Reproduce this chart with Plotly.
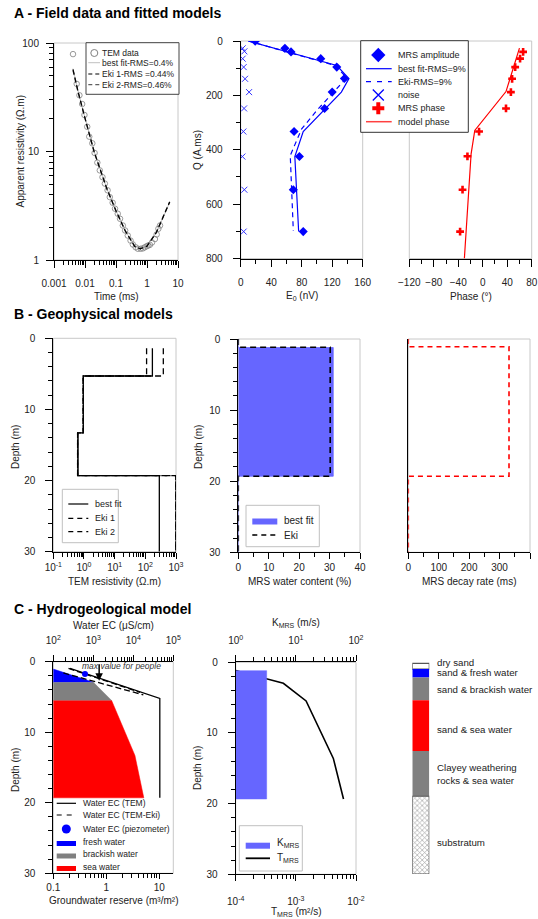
import math
import plotly.graph_objects as go

W, H = 538, 919
FONT = "Liberation Sans, Arial, Helvetica, sans-serif"

# ------------------------------------------------------------------ data
# Panel A1 - TEM sounding
tem_time = [0.0041, 0.0054, 0.0066, 0.0081, 0.0096, 0.0118, 0.0137, 0.0172, 0.0204, 0.025,
            0.030, 0.0366, 0.0437, 0.0536, 0.063, 0.078, 0.093, 0.114, 0.135, 0.166,
            0.197, 0.24, 0.295, 0.35, 0.43, 0.51, 0.63, 0.74, 0.85, 0.98, 1.1, 1.24,
            1.45, 1.8, 2.05, 2.33, 2.63]
tem_rho = [79, 42, 33, 27.4, 21.7, 16.9, 13.7, 11.9, 9.7, 7.9,
           6.7, 5.8, 5.06, 4.39, 3.8, 3.37, 2.97, 2.67, 2.4, 2.08,
           1.87, 1.68, 1.51, 1.39, 1.31, 1.27, 1.27, 1.28, 1.31, 1.34, 1.36, 1.38,
           1.45, 1.56, 1.72, 1.94, 2.08]
fit_time = [0.0041, 0.006, 0.01, 0.02, 0.05, 0.1, 0.2, 0.4, 0.6, 1.0, 2.0, 3.5, 5.4]
fit_rho_best = [58, 36, 20.5, 9.9, 4.6, 2.85, 1.86, 1.34, 1.27, 1.34, 1.78, 2.6, 3.4]
fit_rho_eki1 = [57, 35.5, 20.3, 9.8, 4.6, 2.84, 1.85, 1.34, 1.27, 1.34, 1.79, 2.62, 3.42]
fit_rho_eki2 = [56, 35, 20.2, 9.8, 4.55, 2.83, 1.85, 1.33, 1.27, 1.35, 1.80, 2.63, 3.45]

# Panel A2 - MRS amplitude
mrs_q = [1, 27, 40, 65, 96, 138, 188, 248, 333, 425, 547, 701]
mrs_amp = [19, 58, 66, 105, 126, 136, 120, 110, 70, 77, 69, 82]
noise_q = [27, 38, 65, 96, 139, 188, 248, 333, 425, 547, 701]
noise_amp = [2.6, 4.8, 2.6, 3.9, 5.7, 11, 4.4, 3.5, 2.2, 4.8, 3.9]
best_q = [0, 90, 138, 188, 333, 425, 701]
best_amp = [10, 126, 142, 132, 82, 71, 76]
eki_q = [0, 90, 135, 255, 323, 421, 698]
eki_amp = [10, 124, 139, 100, 80, 65, 69]

# Panel A3 - MRS phase
phase_q = [40, 65, 96, 139, 188, 248, 333, 424, 547, 701]
phase_val = [66, 61, 53, 48, 46, 38, -6, -25, -33, -37]
model_phase_q = [26, 186, 329, 415, 800]
model_phase_val = [60, 38, -13, -19, -30]

# Panel B1 - TEM resistivity models (layer boundaries in m, resistivity in ohm.m)
tem_bounds = [1.4, 5.3, 13.3, 19.3, 30]
tem_best = [170, 0.95, 0.64, 286]
tem_eki1 = [110, 0.95, 0.62, 980]
tem_eki2 = [386, 0.93, 0.62, 980]

# Panel B2 - MRS water content (%)
wc_bounds_best = [0, 1.2, 19.3, 30]
wc_best = [0, 31.2, 0]
wc_bounds_eki = [0, 1.15, 19.3, 30]
wc_eki = [0, 30.2, 0]

# Panel B3 - MRS decay rate (ms)
decay_bounds = [0, 1.1, 19.3, 30]
decay_val = [0, 331, 0]

# Panel C1 - groundwater reserve (cumulative) and water EC
gw_depth = [1.04, 2.92, 5.5, 13.3, 19.3]
gw_reserve = [0.1, 0.57, 1.26, 3.47, 5.1]
ec_tem_depth = [0.93, 5.2, 19.3]
ec_tem = [262, 46000, 46000]
ec_eki1_depth = [0.95, 4.35]
ec_eki1 = [240, 14700]
ec_eki2_depth = [1.6, 4.7]
ec_eki2 = [178, 17800]
piezo_depth = [1.75]
piezo_ec = [620]
ec_max_people = 1400

# Panel C2 - hydraulic conductivity and transmissivity
kmrs_val = 3.27
kmrs_top, kmrs_bottom = 1.18, 19.34
tmrs_depth = [1.18, 2.97, 5.47, 13.6, 19.34]
tmrs_val = [1e-4, 6.2e-4, 1.48e-3, 4.2e-3, 6.2e-3]

# Panel C3 - lithological column
lith_names = ["dry sand", "sand & fresh water", "sand & brackish water",
              "sand & sea water", "Clayey weathering<br>rocks & sea water", "substratum"]
lith_bounds = [0.2, 1.0, 2.2, 5.4, 12.6, 19.0, 30.0]
lith_label_depth = [0.1, 1.55, 3.95, 9.5, 15.8, 25.6]
lith_colors = ["#ffffff", "#0000ff", "#808080", "#ff0000", "#808080", "#ffffff"]

# ------------------------------------------------------------------ helpers
def dx(a, b):
    return [a / W, b / W]


def dy(t, b):
    return [1 - b / H, 1 - t / H]


def step(bounds, vals):
    xs, ys = [], []
    for i, v in enumerate(vals):
        xs += [v, v]
        ys += [bounds[i], bounds[i + 1]]
    return xs, ys


def log_minor(e0, e1, vmax=None):
    out = [m * 10.0 ** e for e in range(e0, e1) for m in range(2, 10)]
    if vmax is not None:
        out = [v for v in out if v <= vmax]
    return out


def axis(**kw):
    base = dict(showline=True, linecolor="black", linewidth=1, ticks="outside",
                ticklen=7, tickwidth=1, tickcolor="black", showgrid=False,
                zeroline=False, tickfont=dict(size=10, color="#222", family=FONT),
                fixedrange=True, automargin=False)
    base.update(kw)
    return base


def minor_lin(d):
    return dict(dtick=d, ticks="outside", ticklen=4, tickcolor="black", showgrid=False)


def minor_log(vals):
    return dict(tickvals=vals, ticks="outside", ticklen=4, tickcolor="black", showgrid=False)


def sup(e):
    return "10<sup>%d</sup>" % e


fig = go.Figure()
annotations = []
shapes = []


def ann(text, x, y, size=10, angle=0, xanchor="center", yanchor="middle", **kw):
    d = dict(text=text, x=x / W, y=1 - y / H, xref="paper", yref="paper",
             showarrow=False, xanchor=xanchor, yanchor=yanchor, textangle=angle,
             borderpad=0,
             font=dict(size=size, family=FONT, color=kw.pop("color", "#222")))
    d.update(kw)
    annotations.append(d)


def frame(xd, yd, color="#c8c8c8"):
    shapes.append(dict(type="rect", xref="paper", yref="paper", layer="below",
                       x0=xd[0], x1=xd[1], y0=yd[0], y1=yd[1],
                       line=dict(color=color, width=1), fillcolor="rgba(0,0,0,0)"))


def box(x0, y0, x1, y1, border="#444"):
    shapes.append(dict(type="rect", xref="paper", yref="paper", layer="below",
                       x0=x0 / W, x1=x1 / W, y0=1 - y1 / H, y1=1 - y0 / H,
                       line=dict(color=border, width=1), fillcolor="white"))


def leg_line(x0, x1, y, **line):
    fig.add_trace(go.Scatter(x=[x0, x1], y=[y, y], xaxis="x12", yaxis="y12",
                             mode="lines", line=line, hoverinfo="skip"))


def leg_marker(x, y, **marker):
    fig.add_trace(go.Scatter(x=[x], y=[y], xaxis="x12", yaxis="y12", mode="markers",
                             marker=marker, hoverinfo="skip", cliponaxis=False))


# domains (pixels)
A1x, A1y = dx(54, 178), dy(43, 260)
A2x, A2y = dx(240.7, 362.7), dy(41, 258.5)
A3x, A3y = dx(409.3, 531.7), dy(41, 258.5)
B1x, B1y = dx(53.3, 176), dy(338.3, 551.7)
B2x, B2y = dx(238.3, 360), dy(339, 552.3)
B3x, B3y = dx(408.3, 530), dy(339, 552.3)
C1x, C1y = dx(53.3, 173.3), dy(661.7, 873.3)
C2x, C2y = dx(235.7, 356), dy(662.3, 874.3)
C3x, C3y = dx(412.3, 429.3), dy(662, 874)

for xd, yd in [(A1x, A1y), (A2x, A2y), (A3x, A3y), (B1x, B1y), (B2x, B2y),
               (B3x, B3y), (C1x, C1y), (C2x, C2y)]:
    frame(xd, yd)

# ------------------------------------------------------------------ A1 traces
fig.add_trace(go.Scatter(x=tem_time, y=tem_rho, xaxis="x", yaxis="y", mode="markers",
                         marker=dict(symbol="circle-open", size=5.5, color="#808080",
                                     line=dict(width=0.8))))
fig.add_trace(go.Scatter(x=fit_time, y=fit_rho_best, xaxis="x", yaxis="y", mode="lines",
                         line=dict(color="#b0b0b0", width=0.8)))
fig.add_trace(go.Scatter(x=fit_time, y=fit_rho_eki2, xaxis="x", yaxis="y", mode="lines",
                         line=dict(color="#606060", width=1.3, dash="5px,3px")))
fig.add_trace(go.Scatter(x=fit_time, y=fit_rho_eki1, xaxis="x", yaxis="y", mode="lines",
                         line=dict(color="black", width=1.2, dash="5px,3px")))

# ------------------------------------------------------------------ A2 traces
fig.add_trace(go.Scatter(x=noise_amp, y=noise_q, xaxis="x2", yaxis="y2", mode="markers",
                         marker=dict(symbol="x-thin-open", size=6, color="#3333ff",
                                     line=dict(width=1, color="#3333ff"))))
fig.add_trace(go.Scatter(x=best_amp, y=best_q, xaxis="x2", yaxis="y2", mode="lines",
                         line=dict(color="#0000ff", width=1.2)))
fig.add_trace(go.Scatter(x=eki_amp, y=eki_q, xaxis="x2", yaxis="y2", mode="lines",
                         line=dict(color="#0000ff", width=1.2, dash="5px,4px")))
fig.add_trace(go.Scatter(x=mrs_amp, y=mrs_q, xaxis="x2", yaxis="y2", mode="markers",
                         marker=dict(symbol="diamond", size=7, color="#0000ff")))

# ------------------------------------------------------------------ A3 traces
fig.add_trace(go.Scatter(x=model_phase_val, y=model_phase_q, xaxis="x3", yaxis="y3",
                         mode="lines", line=dict(color="#ff0000", width=1.2)))
fig.add_trace(go.Scatter(x=phase_val, y=phase_q, xaxis="x3", yaxis="y3", mode="markers",
                         marker=dict(symbol="cross", size=6.5, color="#ff0000")))

# ------------------------------------------------------------------ B1 traces
for vals, dash, col, w in [(tem_eki1, "6px,4px", "black", 1.3),
                           (tem_eki2, "6px,4px", "black", 1.3),
                           (tem_best, "solid", "black", 1.3)]:
    xs, ys = step(tem_bounds, vals)
    fig.add_trace(go.Scatter(x=xs, y=ys, xaxis="x4", yaxis="y4", mode="lines",
                             line=dict(color=col, width=w, dash=dash)))

# ------------------------------------------------------------------ B2 traces
xs, ys = step(wc_bounds_best, wc_best)
fig.add_trace(go.Scatter(x=xs, y=ys, xaxis="x5", yaxis="y5", mode="lines", fill="tozerox",
                         fillcolor="#6666ff", line=dict(color="#6666ff", width=0.8)))
xs, ys = step(wc_bounds_eki, wc_eki)
fig.add_trace(go.Scatter(x=xs, y=ys, xaxis="x5", yaxis="y5", mode="lines",
                         line=dict(color="black", width=1.6, dash="6px,4px")))

# ------------------------------------------------------------------ B3 traces
xs, ys = step(decay_bounds, decay_val)
fig.add_trace(go.Scatter(x=xs, y=ys, xaxis="x6", yaxis="y6", mode="lines",
                         line=dict(color="#ff0000", width=1.6, dash="5px,4px")))

# ------------------------------------------------------------------ C1 traces
rmin = 10 ** -1  # left edge of the reserve axis
segments = [(0, 1, "#0000ff"), (1, 2, "#808080"), (2, 4, "#ff0000")]
for i0, i1, col in segments:
    px = gw_reserve[i0:i1 + 1] + [rmin, rmin]
    py = gw_depth[i0:i1 + 1] + [gw_depth[i1], gw_depth[i0]]
    fig.add_trace(go.Scatter(x=px, y=py, xaxis="x7", yaxis="y7", mode="lines", fill="toself",
                             fillcolor=col, line=dict(color=col, width=0.5)))
fig.add_trace(go.Scatter(x=ec_eki1, y=ec_eki1_depth, xaxis="x8", yaxis="y7", mode="lines",
                         line=dict(color="black", width=1.3, dash="6px,3px")))
fig.add_trace(go.Scatter(x=ec_eki2, y=ec_eki2_depth, xaxis="x8", yaxis="y7", mode="lines",
                         line=dict(color="black", width=1.3, dash="6px,3px")))
fig.add_trace(go.Scatter(x=ec_tem, y=ec_tem_depth, xaxis="x8", yaxis="y7", mode="lines",
                         line=dict(color="black", width=1.3)))
fig.add_trace(go.Scatter(x=piezo_ec, y=piezo_depth, xaxis="x8", yaxis="y7", mode="markers",
                         marker=dict(size=6, color="#0000ff")))

# ------------------------------------------------------------------ C2 traces
kx = [10 ** 0, kmrs_val, kmrs_val, 10 ** 0]
ky = [kmrs_top, kmrs_top, kmrs_bottom, kmrs_bottom]
fig.add_trace(go.Scatter(x=kx, y=ky, xaxis="x10", yaxis="y9", mode="lines", fill="toself",
                         fillcolor="#6666ff", line=dict(color="#6666ff", width=0.5)))
fig.add_trace(go.Scatter(x=tmrs_val, y=tmrs_depth, xaxis="x9", yaxis="y9", mode="lines",
                         line=dict(color="black", width=1.6)))

# ------------------------------------------------------------------ C3 column
thick = [lith_bounds[i + 1] - lith_bounds[i] for i in range(len(lith_names))]
fig.add_trace(go.Bar(x=[0] * len(thick), y=thick, base=lith_bounds[:-1], xaxis="x11",
                     yaxis="y11", width=1.0,
                     marker=dict(color=lith_colors,
                                 line=dict(color="#555", width=[1.2, 0, 0, 0, 0, 1.2]),
                                 pattern=dict(shape=["", "", "", "", "", "x"], fgcolor="#888",
                                              size=3.5, solidity=0.35))))
for name, d in zip(lith_names, lith_label_depth):
    annotations.append(dict(text=name, x=435.5 / W, y=d, xref="paper", yref="y11",
                            showarrow=False, xanchor="left", yanchor="middle", align="left",
                            borderpad=0,
                            font=dict(size=9.7, family=FONT, color="#222")))

# ------------------------------------------------------------------ legends (drawn)
# A1 legend
box(86, 42.7, 179, 94.3, border="#444")
leg_marker(94.3, 53, symbol="circle-open", size=7, color="#808080", line=dict(width=1))
leg_line(88.3, 100, 62.7, color="#b0b0b0", width=0.8)
leg_line(88.3, 100, 74, color="black", width=1.2, dash="4px,3px")
leg_line(88.3, 100, 84.7, color="#606060", width=1.3, dash="4px,3px")
for t, y in [("TEM data", 53), ("best fit-RMS=0.4%", 62.7), ("Eki 1-RMS =0.44%", 74),
             ("Eki 2-RMS=0.46%", 84.7)]:
    ann(t, 101, y, size=8.5, xanchor="left")

# A2/A3 legend
box(360.7, 40.7, 468.3, 132.3, border="#333")
leg_marker(378.3, 55, symbol="diamond", size=11, color="#0000ff")
leg_line(366, 391.7, 68.7, color="#0000ff", width=1.2)
leg_line(366, 391.7, 81.7, color="#0000ff", width=1.2, dash="5px,6px")
leg_marker(378.3, 95, symbol="x-thin-open", size=11, color="#0000ff", line=dict(width=1.3, color="#0000ff"))
leg_marker(378.3, 108.3, symbol="cross", size=10, color="#ff0000")
leg_line(366, 391.7, 121.7, color="#ff4040", width=1.5)
for t, y in [("MRS amplitude", 55), ("best fit-RMS=9%", 68.7), ("Eki-RMS=9%", 81.7),
             ("noise", 95), ("MRS phase", 108.3), ("model phase", 121.7)]:
    ann(t, 397.3, y, size=9, xanchor="left")

# B1 legend
box(62.3, 489.3, 118.3, 542.7, border="#c0c0c0")
leg_line(68.3, 88.3, 504, color="black", width=1.2)
leg_line(68.3, 88.3, 518.3, color="black", width=1.2, dash="5px,4px")
leg_line(68.3, 88.3, 531.7, color="black", width=1.2, dash="5px,4px")
for t, y in [("best fit", 504), ("Eki 1", 518.3), ("Eki 2", 531.7)]:
    ann(t, 94, y, size=9, xanchor="left")

# B2 legend
box(246, 505.3, 319.3, 546.7, border="#c0c0c0")
leg_line(252.3, 277.3, 521.5, color="#6666ff", width=6)
leg_line(252.3, 277.3, 535, color="black", width=1.6, dash="5px,4px")
ann("best fit", 282.7, 520.7, size=10, xanchor="left")
ann("Eki", 282.7, 535, size=10, xanchor="left")

# C1 legend
leg_line(56.7, 76, 803.3, color="black", width=1.2)
leg_line(56.7, 76, 815, color="black", width=1.2, dash="5px,5px")
leg_marker(66.3, 829, size=9, color="#0000ff")
leg_line(56.7, 76, 843.5, color="#0000ff", width=5)
leg_line(56.7, 76, 856, color="#808080", width=5)
leg_line(56.7, 76, 868.5, color="#ff0000", width=5)
for t, y in [("Water EC (TEM)", 803.3), ("Water EC (TEM-Eki)", 815),
             ("Water EC (piezometer)", 829), ("fresh water", 842),
             ("brackish water", 854.3), ("sea water", 866.8)]:
    ann(t, 82, y, size=8.5, xanchor="left")

# C2 legend
box(239.3, 825.7, 302.3, 871, border="#c0c0c0")
leg_line(245.7, 270, 845.7, color="#6666ff", width=6)
leg_line(245.7, 270, 858.3, color="black", width=1.8)
ann("K<sub>MRS</sub>", 276, 843.3, size=10, xanchor="left")
ann("T<sub>MRS</sub>", 276, 858.3, size=10, xanchor="left")

# ------------------------------------------------------------------ titles and labels
ann("<b>A - Field data and fitted models</b>", 12.7, 13.3, size=14, xanchor="left", color="black")
ann("<b>B - Geophysical models</b>", 12.7, 313.5, size=14, xanchor="left", color="black")
ann("<b>C - Hydrogeological model</b>", 12.7, 608.5, size=14, xanchor="left", color="black")

ann("Apparent resistivity (Ω.m)", 20, 151.5, angle=-90)
ann("Time (ms)", 116, 296)
ann("Q (A.ms)", 197, 150, angle=-90)
ann("E<sub>0</sub> (nV)", 301.7, 296)
ann("Phase (°)", 470.5, 296)

ann("Depth (m)", 15, 447, angle=-90)
ann("TEM resistivity (Ω.m)", 114.7, 581)
ann("Depth (m)", 198, 447, angle=-90)
ann("MRS water content (%)", 299, 581)
ann("MRS decay rate (ms)", 469, 581)

ann("Water EC (μS/cm)", 113.3, 625)
ann("Depth (m)", 15, 770, angle=-90)
ann("Groundwater reserve (m³/m²)", 113.3, 900)
ann("K<sub>MRS</sub> (m/s)", 296, 623.3)
ann("Depth (m)", 197, 768, angle=-90)
ann("T<sub>MRS</sub> (m²/s)", 296, 911.7)

ann("<i>max value for people</i>", 121, 666, size=8.5, color="#333")
annotations.append(dict(text="", x=math.log10(ec_max_people), y=2.7, xref="x8", yref="y7",
                        showarrow=True, ax=0, ay=-18, arrowhead=2, arrowsize=1,
                        arrowwidth=1.5, arrowcolor="black"))

# ------------------------------------------------------------------ axes
YS = 8  # y tick-label standoff
lay = dict(
    xaxis=axis(domain=A1x, anchor="y", type="log", range=[-3, 1], ticklabelstandoff=7,
               tickvals=[0.001, 0.01, 0.1, 1, 10], ticktext=["0.001", "0.01", "0.1", "1", "10"],
               minor=minor_log(log_minor(-3, 1))),
    yaxis=axis(domain=A1y, anchor="x", type="log", range=[0, 2], ticklabelstandoff=5,
               tickvals=[1, 10, 100], ticktext=["1", "10", "100"],
               minor=minor_log(log_minor(0, 2))),
    xaxis2=axis(domain=A2x, anchor="y2", range=[0, 160], tickvals=[0, 40, 80, 120, 160],
                ticklabelstandoff=7, minor=minor_lin(20)),
    yaxis2=axis(domain=A2y, anchor="x2", range=[800, 0], tickvals=[0, 200, 400, 600, 800],
                ticklabelstandoff=YS, minor=minor_lin(100)),
    xaxis3=axis(domain=A3x, anchor="y3", range=[-120, 80], tickvals=[-120, -80, -40, 0, 40, 80],
                ticklabelstandoff=7, minor=minor_lin(20)),
    yaxis3=dict(domain=A3y, anchor="x3", range=[800, 0], visible=False, fixedrange=True),
    xaxis4=axis(domain=B1x, anchor="y4", type="log", range=[-1, 3], ticklen=6,
                tickvals=[0.1, 1, 10, 100, 1000], ticktext=[sup(e) for e in range(-1, 4)],
                minor=minor_log(log_minor(-1, 3))),
    yaxis4=axis(domain=B1y, anchor="x4", range=[30, 0], tickvals=[0, 10, 20, 30],
                ticklabelstandoff=YS, minor=minor_lin(2)),
    xaxis5=axis(domain=B2x, anchor="y5", range=[0, 40], tickvals=[0, 10, 20, 30, 40],
                ticklen=6, minor=minor_lin(5)),
    yaxis5=axis(domain=B2y, anchor="x5", range=[30, 0], tickvals=[0, 10, 20, 30],
                ticklabelstandoff=YS, minor=minor_lin(2)),
    xaxis6=axis(domain=B3x, anchor="y6", range=[0, 400], tickvals=[0, 100, 200, 300, 400],
                ticklen=6, minor=minor_lin(50)),
    yaxis6=axis(domain=B3y, anchor="x6", range=[30, 0], ticks="", showticklabels=False),
    xaxis7=axis(domain=C1x, anchor="y7", type="log", range=[-1, 1.264], ticklen=5,
                tickvals=[0.1, 1, 10], ticktext=["0.1", "1", "10"],
                minor=minor_log(log_minor(-1, 2, 18.4))),
    xaxis8=axis(overlaying="x7", anchor="y7", side="top", type="log", range=[2, 5],
                ticklen=6, ticklabelstandoff=7,
                tickvals=[100, 1000, 10000, 100000], ticktext=[sup(e) for e in range(2, 6)],
                minor=minor_log(log_minor(2, 5))),
    yaxis7=axis(domain=C1y, anchor="x7", range=[30, 0], tickvals=[0, 10, 20, 30],
                ticklabelstandoff=YS, minor=minor_lin(2)),
    xaxis9=axis(domain=C2x, anchor="y9", type="log", range=[-4, -2], ticklen=6,
                ticklabelstandoff=12,
                tickvals=[1e-4, 1e-3, 1e-2], ticktext=[sup(e) for e in range(-4, -1)],
                minor=minor_log(log_minor(-4, -2))),
    xaxis10=axis(overlaying="x9", anchor="y9", side="top", type="log", range=[0, 2],
                 ticklen=6, ticklabelstandoff=7,
                 tickvals=[1, 10, 100], ticktext=[sup(e) for e in range(0, 3)],
                 minor=minor_log(log_minor(0, 2))),
    yaxis9=axis(domain=C2y, anchor="x9", range=[30, 0], tickvals=[0, 10, 20, 30],
                ticklabelstandoff=YS, minor=minor_lin(2)),
    xaxis11=dict(domain=C3x, anchor="y11", range=[-0.5, 0.5], visible=False, fixedrange=True),
    yaxis11=dict(domain=C3y, anchor="x11", range=[30, 0], visible=False, fixedrange=True),
    xaxis12=dict(domain=[0, 1], anchor="y12", range=[0, W], visible=False, fixedrange=True),
    yaxis12=dict(domain=[0, 1], anchor="x12", range=[H, 0], visible=False, fixedrange=True),
)

fig.update_layout(**lay)
fig.update_layout(width=W, height=H, margin=dict(l=0, r=0, t=0, b=0, pad=0, autoexpand=False),
                  paper_bgcolor="white", plot_bgcolor="rgba(0,0,0,0)", showlegend=False,
                  barmode="overlay", font=dict(family=FONT, size=10, color="#222"),
                  annotations=annotations, shapes=shapes)

fig.write_html("out.html", config={"displayModeBar": False, "staticPlot": True},
               post_script="document.body.style.margin='0';document.body.style.overflow='hidden';")
